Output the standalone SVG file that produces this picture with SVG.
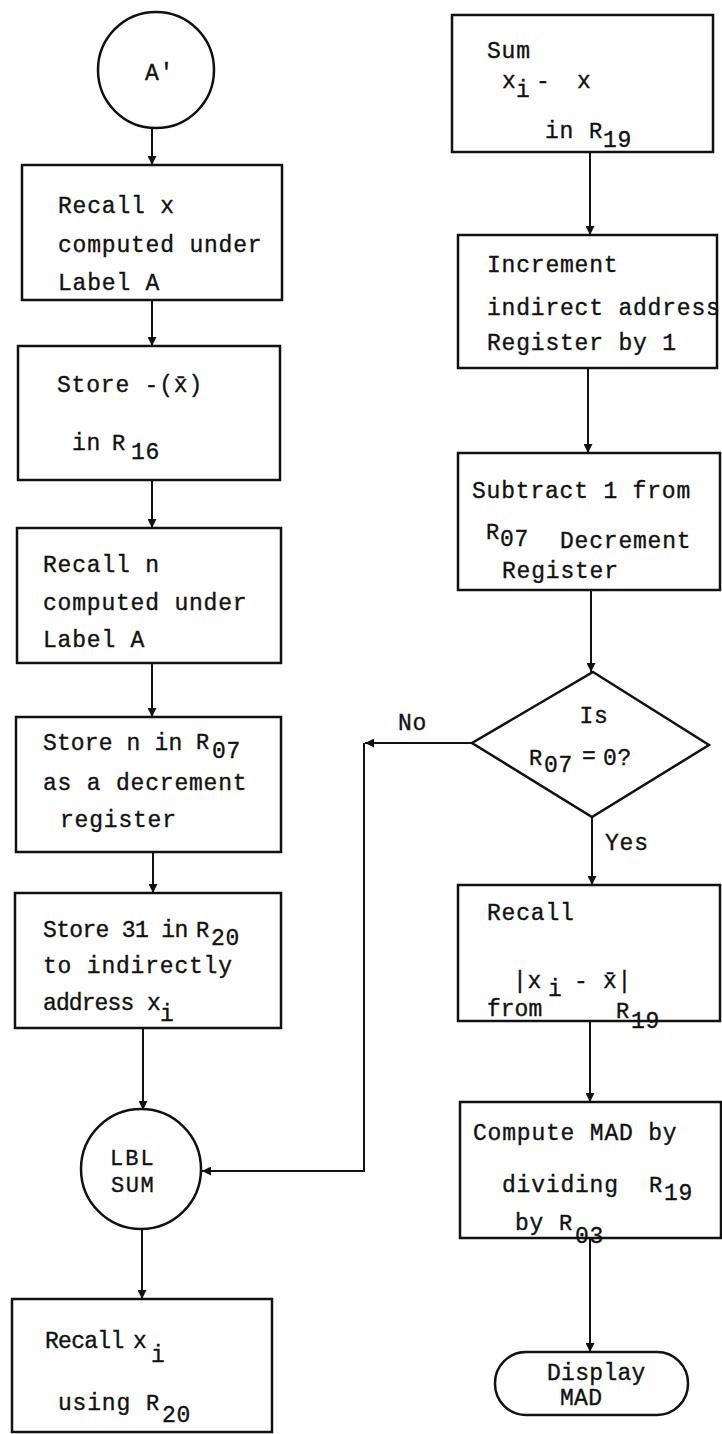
<svg xmlns="http://www.w3.org/2000/svg" width="722" height="1434" viewBox="0 0 722 1434">
<style>
.t{font-family:"Liberation Mono","DejaVu Sans Mono",monospace;font-size:23px;letter-spacing:0.8px;fill:#111;stroke:#111;stroke-width:0.35}
.r{font-size:22px;letter-spacing:0}
.c{text-anchor:middle}
.box{fill:#fff;stroke:#111;stroke-width:2.5}
.ln{fill:none;stroke:#111;stroke-width:2}
</style>
<defs>
<marker id="ah" viewBox="0 0 10 10" refX="10" refY="5" markerWidth="10" markerHeight="9" markerUnits="userSpaceOnUse" orient="auto">
<path d="M0,0 L10,5 L0,10 z" fill="#111"/>
</marker>
</defs>
<rect width="722" height="1434" fill="#fff"/>
<g id="connectors">
<path class="ln" d="M152,128 V165" marker-end="url(#ah)"/>
<path class="ln" d="M152,300 V346" marker-end="url(#ah)"/>
<path class="ln" d="M152,480 V528" marker-end="url(#ah)"/>
<path class="ln" d="M152,663 V717" marker-end="url(#ah)"/>
<path class="ln" d="M153,852 V893" marker-end="url(#ah)"/>
<path class="ln" d="M143,1028 V1110" marker-end="url(#ah)"/>
<path class="ln" d="M142,1228 V1299" marker-end="url(#ah)"/>
<path class="ln" d="M590,152 V235" marker-end="url(#ah)"/>
<path class="ln" d="M588,368 V453" marker-end="url(#ah)"/>
<path class="ln" d="M591,590 V672" marker-end="url(#ah)"/>
<path class="ln" d="M592,817 V885" marker-end="url(#ah)"/>
<path class="ln" d="M590,1021 V1102" marker-end="url(#ah)"/>
<path class="ln" d="M590,1238 V1352" marker-end="url(#ah)"/>
<path class="ln" d="M472,743 H365" marker-end="url(#ah)"/>
<path class="ln" d="M364,743 V1171 H202" marker-end="url(#ah)"/>
<text class="t" x="398" y="730">No</text>
<text class="t" x="605" y="850">Yes</text>
</g>
<g id="n-aprime">
<circle cx="156" cy="70" r="58" class="box"/>
<text class="t" x="145" y="80">A'</text>
</g>
<g id="n-recall-x">
<rect class="box" x="22" y="165" width="260" height="135"/>
<text class="t" x="58" y="213">Recall x</text>
<text class="t" x="58" y="252">computed under</text>
<text class="t" x="58" y="290">Label A</text>
</g>
<g id="n-store-16">
<rect class="box" x="18" y="346" width="262" height="134"/>
<text class="t" x="57" y="392">Store -(x̄)</text>
<text class="t" x="72" y="450">in</text>
<text class="t r" x="112" y="450">R</text>
<text class="t" x="131" y="459">16</text>
</g>
<g id="n-recall-n">
<rect class="box" x="17" y="528" width="264" height="135"/>
<text class="t" x="43" y="572">Recall n</text>
<text class="t" x="43" y="610">computed under</text>
<text class="t" x="43" y="647">Label A</text>
</g>
<g id="n-store-07">
<rect class="box" x="16" y="717" width="265" height="135"/>
<text class="t" x="43" y="750" textLength="140" lengthAdjust="spacing">Store n in</text>
<text class="t r" x="196" y="749">R</text>
<text class="t" x="212" y="758">07</text>
<text class="t" x="43" y="790">as a decrement</text>
<text class="t" x="60" y="827">register</text>
</g>
<g id="n-store-31">
<rect class="box" x="15" y="893" width="266" height="135"/>
<text class="t" x="43" y="937" textLength="146" lengthAdjust="spacing">Store 31 in</text>
<text class="t r" x="196" y="937">R</text>
<text class="t" x="211" y="945">20</text>
<text class="t" x="43" y="973">to indirectly</text>
<text class="t" x="43" y="1010" textLength="92" lengthAdjust="spacing">address</text>
<text class="t" x="147" y="1010">x</text>
<text class="t" x="160" y="1021">i</text>
</g>
<g id="n-lbl-sum">
<circle cx="141" cy="1169" r="60" class="box"/>
<text class="t r" x="110" y="1165" style="letter-spacing:2px">LBL</text>
<text class="t r" x="111" y="1192" style="letter-spacing:1.5px">SUM</text>
</g>
<g id="n-recall-xi">
<rect class="box" x="12" y="1299" width="260" height="133"/>
<text class="t" x="45" y="1348" textLength="80" lengthAdjust="spacing">Recall</text>
<text class="t" x="133" y="1348">x</text>
<text class="t" x="151" y="1362">i</text>
<text class="t" x="58" y="1410">using</text>
<text class="t r" x="146" y="1410">R</text>
<text class="t" x="162" y="1422">20</text>
</g>
<g id="n-sum">
<rect class="box" x="452" y="15" width="261" height="137"/>
<text class="t" x="487" y="58">Sum</text>
<text class="t" x="502" y="88">x</text>
<text class="t" x="516" y="97">i</text>
<text class="t" x="536" y="88">-</text>
<text class="t" x="577" y="88">x</text>
<text class="t" x="545" y="138">in</text>
<text class="t r" x="589" y="138">R</text>
<text class="t" x="603" y="147">19</text>
</g>
<g id="n-increment">
<rect class="box" x="458" y="235" width="259" height="133"/>
<text class="t" x="487" y="272">Increment</text>
<text class="t" x="487" y="315">indirect address</text>
<text class="t" x="487" y="350">Register by 1</text>
</g>
<g id="n-subtract">
<rect class="box" x="458" y="453" width="262" height="137"/>
<text class="t" x="472" y="498">Subtract 1 from</text>
<text class="t r" x="486" y="539">R</text>
<text class="t" x="500" y="546">07</text>
<text class="t" x="560" y="548">Decrement</text>
<text class="t" x="502" y="578">Register</text>
</g>
<g id="n-decision">
<path class="box" d="M593,672 L709,745 L592,817 L472,743 Z"/>
<text class="t c" x="594" y="723">Is</text>
<text class="t r" x="529" y="765">R</text>
<text class="t" x="544" y="772">07</text>
<text class="t" x="582" y="763">=</text>
<text class="t" x="603" y="765">0?</text>
</g>
<g id="n-recall-abs">
<rect class="box" x="458" y="885" width="262" height="136"/>
<text class="t" x="487" y="920">Recall</text>
<text class="t" x="513" y="988">|x</text>
<text class="t" x="548" y="996">i</text>
<text class="t" x="574" y="988">-</text>
<text class="t" x="603" y="988">x̄|</text>
<text class="t" x="487" y="1016" textLength="56" lengthAdjust="spacing">from</text>
<text class="t r" x="616" y="1018">R</text>
<text class="t" x="631" y="1028">19</text>
</g>
<g id="n-compute">
<rect class="box" x="460" y="1102" width="261" height="136"/>
<text class="t" x="473" y="1140">Compute MAD by</text>
<text class="t" x="502" y="1192">dividing</text>
<text class="t r" x="649" y="1192">R</text>
<text class="t" x="664" y="1200">19</text>
<text class="t" x="515" y="1230">by</text>
<text class="t r" x="559" y="1230">R</text>
<text class="t" x="575" y="1243">03</text>
</g>
<g id="n-display">
<rect class="box" x="495" y="1352" width="193" height="63" rx="31" ry="31"/>
<text class="t" x="547" y="1380" style="letter-spacing:0.3px">Display</text>
<text class="t" x="560" y="1405" style="letter-spacing:0.3px">MAD</text>
</g>
</svg>
